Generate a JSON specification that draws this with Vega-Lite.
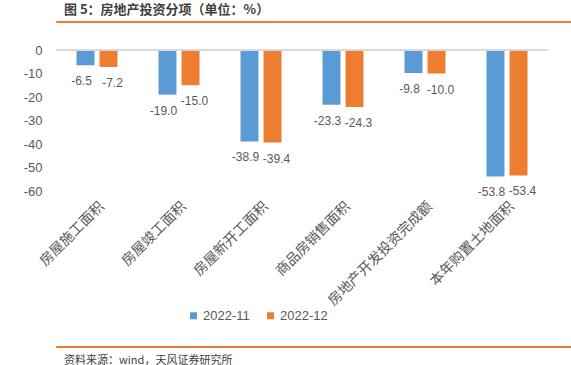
{
  "$schema": "https://vega.github.io/schema/vega-lite/v6.json",
  "padding": {"left": 4, "top": 3, "right": 4, "bottom": 2},
  "background": "white",
  "config": {
    "view": {"stroke": null},
    "font": "Noto Sans CJK SC",
    "title": {"font": "Noto Sans CJK SC"},
    "locale": {"number": {"decimal": ".", "thousands": ",", "grouping": [3], "currency": ["$", ""], "minus": "-"}}
  },
  "spacing": 17,
  "resolve": {"scale": {"color": "independent"}, "legend": {"color": "independent"}},
  "vconcat": [
    {
      "title": {"text": "图 5：房地产投资分项（单位：%）", "anchor": "start", "fontSize": 13, "fontWeight": "bold", "color": "#404040", "offset": -1, "dx": 8},
      "width": 562,
      "height": 1,
      "view": {"stroke": "#ED7D31", "strokeWidth": 1},
      "data": {"values": [{}]},
      "mark": {"type": "text"},
      "encoding": {"text": {"value": ""}}
    },
    {
      "width": 492,
      "height": 141,
      "data": {
        "values": [
          {"cat": "房屋施工面积", "series": "2022-11", "value": -6.5},
          {"cat": "房屋施工面积", "series": "2022-12", "value": -7.2},
          {"cat": "房屋竣工面积", "series": "2022-11", "value": -19.0},
          {"cat": "房屋竣工面积", "series": "2022-12", "value": -15.0},
          {"cat": "房屋新开工面积", "series": "2022-11", "value": -38.9},
          {"cat": "房屋新开工面积", "series": "2022-12", "value": -39.4},
          {"cat": "商品房销售面积", "series": "2022-11", "value": -23.3},
          {"cat": "商品房销售面积", "series": "2022-12", "value": -24.3},
          {"cat": "房地产开发投资完成额", "series": "2022-11", "value": -9.8},
          {"cat": "房地产开发投资完成额", "series": "2022-12", "value": -10.0},
          {"cat": "本年购置土地面积", "series": "2022-11", "value": -53.8},
          {"cat": "本年购置土地面积", "series": "2022-12", "value": -53.4}
        ]
      },
      "encoding": {
        "x": {
          "field": "cat", "type": "nominal", "sort": null,
          "scale": {"paddingInner": 0.5, "paddingOuter": 0.25},
          "axis": {"title": null, "domain": false, "ticks": false, "labelAngle": -45, "labelFontSize": 14, "labelColor": "#595959", "labelPadding": 8, "labelFont": "Noto Sans CJK SC", "labelLimit": 300}
        },
        "xOffset": {"field": "series", "type": "nominal", "scale": {"domain": ["2022-11", "2022-12"], "paddingInner": 0.22, "paddingOuter": 0}},
        "y": {
          "field": "value", "type": "quantitative",
          "scale": {"domain": [-60, 0], "nice": false},
          "axis": {"title": null, "domain": false, "ticks": false, "grid": false, "values": [0, -10, -20, -30, -40, -50, -60], "labelFontSize": 13, "labelColor": "#595959", "labelPadding": 14, "minExtent": 52, "labelFont": "Liberation Sans"}
        }
      },
      "layer": [
        {
          "mark": {"type": "bar"},
          "encoding": {
            "color": {
              "field": "series", "type": "nominal",
              "scale": {"domain": ["2022-11", "2022-12"], "range": ["#5B9BD5", "#ED7D31"]},
              "legend": {"title": null, "orient": "none", "direction": "horizontal", "legendX": 131, "legendY": 259, "symbolType": "square", "symbolSize": 49, "symbolStrokeWidth": 0, "labelFontSize": 13, "labelColor": "#595959", "labelFont": "Liberation Sans", "columnPadding": 14, "symbolOffset": 0, "labelOffset": 3}
            }
          }
        },
        {
          "transform": [{"filter": "datum.series === '2022-11'"}],
          "mark": {"type": "text", "baseline": "middle", "dy": 16, "dx": -4, "fontSize": 12, "color": "#595959", "font": "Liberation Sans"},
          "encoding": {"text": {"field": "value", "type": "quantitative", "format": ".1f"}}
        },
        {
          "transform": [{"filter": "datum.series === '2022-12'"}],
          "mark": {"type": "text", "baseline": "middle", "dy": 16, "dx": 4, "fontSize": 12, "color": "#595959", "font": "Liberation Sans"},
          "encoding": {"text": {"field": "value", "type": "quantitative", "format": ".1f"}}
        },
        {
          "mark": {"type": "rule", "color": "#d9d9d9", "strokeWidth": 1},
          "encoding": {"y": {"datum": 0}, "x": null, "xOffset": null}
        }
      ]
    },
    {
      "title": {"text": "资料来源：wind，天风证券研究所", "orient": "bottom", "anchor": "start", "fontSize": 11, "fontWeight": "normal", "color": "#404040", "offset": 3, "dx": 8},
      "width": 562,
      "height": 1,
      "view": {"stroke": "#ED7D31", "strokeWidth": 1},
      "data": {"values": [{}]},
      "mark": {"type": "text"},
      "encoding": {"text": {"value": ""}}
    }
  ]
}
